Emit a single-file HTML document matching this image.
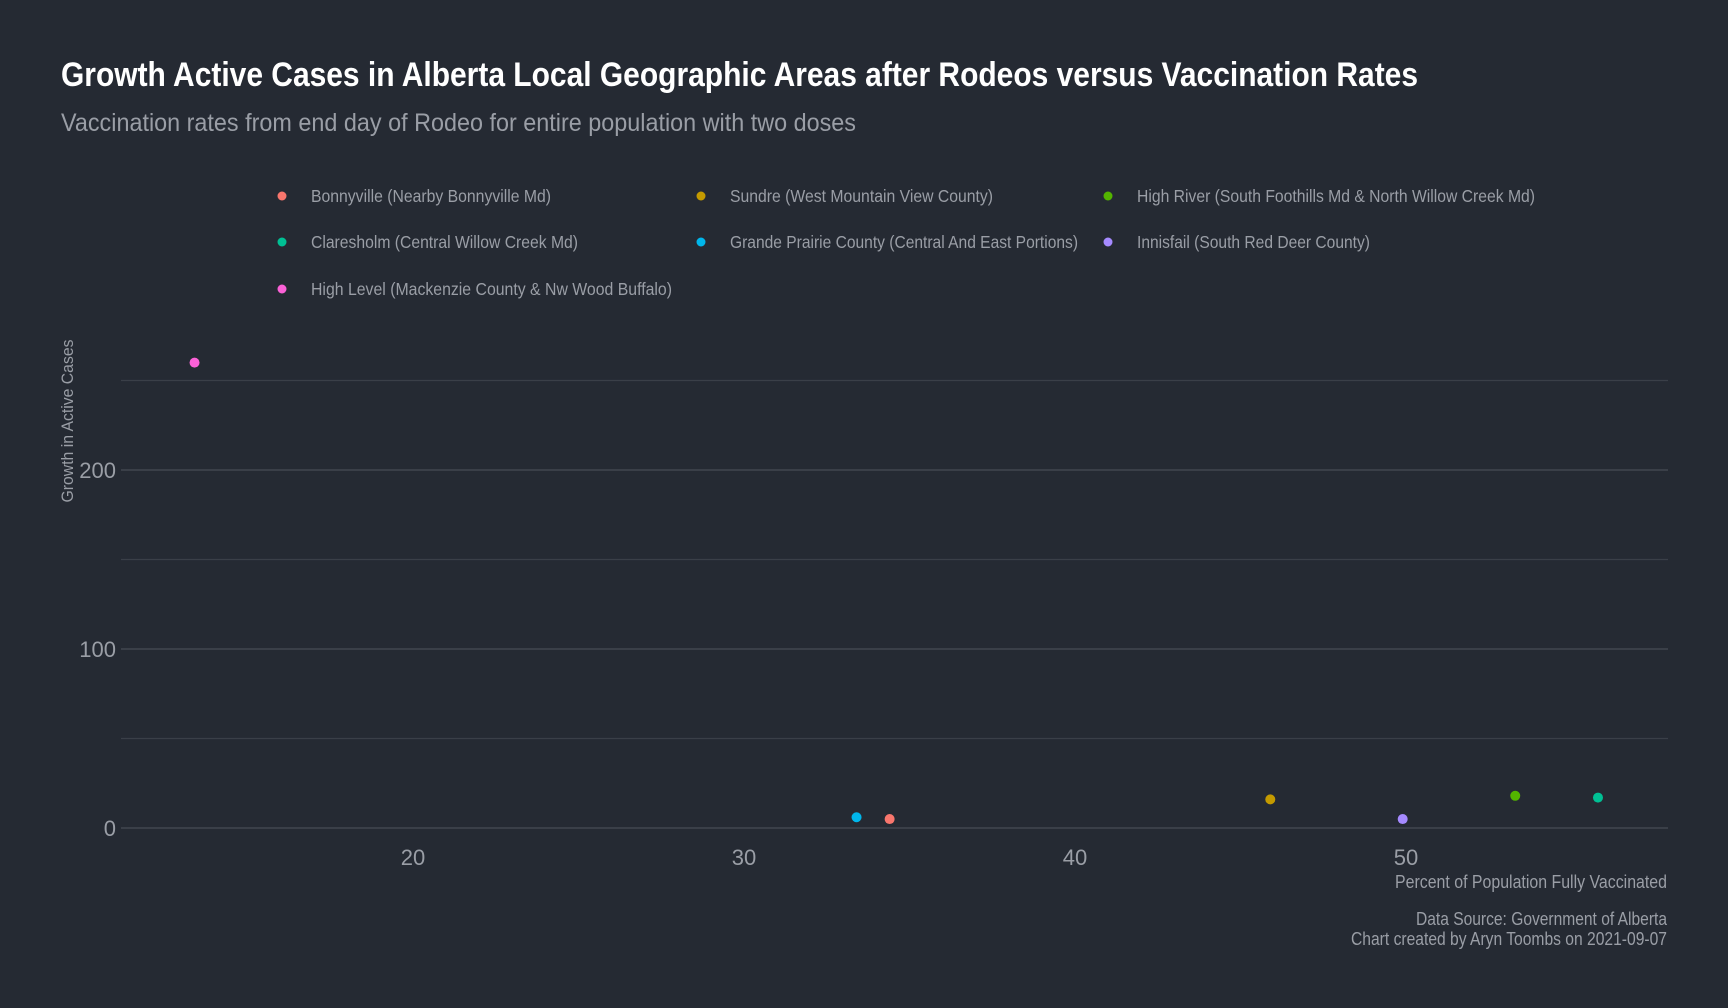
<!DOCTYPE html>
<html><head><meta charset="utf-8"><style>
html,body{margin:0;padding:0;background:#252a33;}
svg{display:block;font-family:"Liberation Sans Narrow","Liberation Sans",sans-serif;}
</style></head><body>
<svg id="chart" width="1728" height="1008" viewBox="0 0 1728 1008">
<rect width="1728" height="1008" fill="#252a33"/>
<text x="61" y="86" font-size="34" font-weight="bold" fill="#ffffff" textLength="1357" lengthAdjust="spacingAndGlyphs">Growth Active Cases in Alberta Local Geographic Areas after Rodeos versus Vaccination Rates</text>
<text x="61" y="131" font-size="25" fill="#9a9ea6" textLength="795" lengthAdjust="spacingAndGlyphs">Vaccination rates from end day of Rodeo for entire population with two doses</text>
<g id="legend"></g>
<g id="grid"></g>
<g id="yticks"></g>
<g id="xticks"></g>
<g id="points"></g>
<text transform="translate(73,421) rotate(-90)" text-anchor="middle" font-size="17" fill="#9a9ea6" textLength="163" lengthAdjust="spacingAndGlyphs">Growth in Active Cases</text>
<text x="1667" y="888" text-anchor="end" font-size="18" fill="#9a9ea6" textLength="272" lengthAdjust="spacingAndGlyphs">Percent of Population Fully Vaccinated</text>
<text x="1667" y="925" text-anchor="end" font-size="18" fill="#9a9ea6" textLength="251" lengthAdjust="spacingAndGlyphs">Data Source: Government of Alberta</text>
<text x="1667" y="945" text-anchor="end" font-size="18" fill="#9a9ea6" textLength="316" lengthAdjust="spacingAndGlyphs">Chart created by Aryn Toombs on 2021-09-07</text>
</svg>
<script>
const names = ["Bonnyville (Nearby Bonnyville Md)","Sundre (West Mountain View County)","High River (South Foothills Md & North Willow Creek Md)","Claresholm (Central Willow Creek Md)","Grande Prairie County (Central And East Portions)","Innisfail (South Red Deer County)","High Level (Mackenzie County & Nw Wood Buffalo)"];
const colors = ["#f8766d","#c49a00","#53b400","#00c094","#00b6eb","#a58aff","#fb61d7"];
const vaccinated = [34.4,45.9,53.3,55.8,33.4,49.9,13.4];
const growth = [5,16,18,17,6,5,260];
const xTicks = [20,30,40,50];
const yTicks = [0,100,200];
const yGrid = [0,50,100,150,200,250];

const NS="http://www.w3.org/2000/svg";
const L=121,R=1668;
const legendWidths=[240,263,398,267,348,233,361];
function xs(v){return 413+(v-20)*33.1;}
function ys(v){return 828-v*1.79;}
function mk(tag,attrs,parent){const e=document.createElementNS(NS,tag);for(const k in attrs)e.setAttribute(k,attrs[k]);parent.appendChild(e);return e;}

const grid=document.getElementById('grid');
yGrid.forEach(v=>{
  const ln=mk('line',{x1:L,x2:R,y1:ys(v),y2:ys(v),stroke:(v%100===0)?'#474c55':'#3a3f48','stroke-width':1.2},grid);
  
  
});
const yt=document.getElementById('yticks');
yTicks.forEach(v=>{
  const t=mk('text',{x:116,y:ys(v)+8,'text-anchor':'end','font-size':22,fill:'#9a9ea6'},yt);
  t.textContent=v;
  
  
});
const xt=document.getElementById('xticks');
xTicks.forEach(v=>{
  const t=mk('text',{x:xs(v),y:865,'text-anchor':'middle','font-size':22,fill:'#9a9ea6'},xt);
  t.textContent=v;
  
  
});
const pts=document.getElementById('points');
vaccinated.forEach((v,i)=>{
  const c=mk('circle',{cx:xs(v),cy:ys(growth[i]),r:5,fill:colors[i]},pts);
  
  
});
const leg=document.getElementById('legend');
const colX=[282,701,1108], rowY=[196,242,289];
names.forEach((n,i)=>{
  const cx=colX[i%3], cy=rowY[Math.floor(i/3)];
  const g=mk('g',{},leg);
  
  
  mk('circle',{cx:cx,cy:cy,r:4.5,fill:colors[i]},g);
  const t=mk('text',{x:cx+29,y:cy+6,'font-size':17.5,fill:'#9a9ea6',textLength:legendWidths[i],lengthAdjust:'spacingAndGlyphs'},g);
  t.textContent=n;
});
</script>
</body></html>
